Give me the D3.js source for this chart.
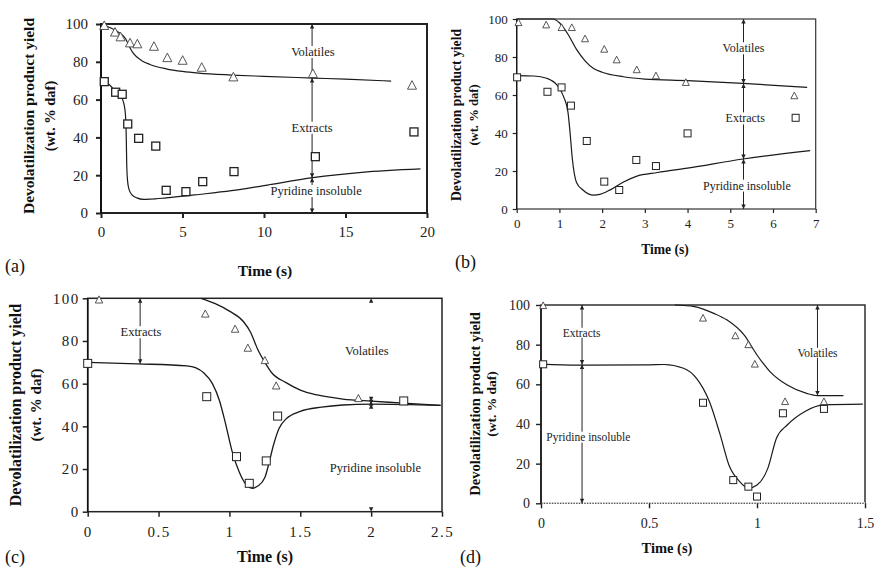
<!DOCTYPE html>
<html>
<head>
<meta charset="utf-8">
<script src="https://cdn.jsdelivr.net/npm/d3@7"></script>
<style>
  html, body { margin: 0; padding: 0; background: #fff; }
  svg, svg text { font-family: "Liberation Serif", serif; }
</style>
</head>
<body>
<svg id="fig" width="875" height="572"></svg>
<script>
// ---- Measured yields (wt.% daf) vs. time (s) ----
// (a)
const aVolatilesPts = [[0.2,99],[0.86,95.5],[1.2,93],[1.78,89.8],[2.23,89.3],[3.25,88],[4.07,82],[5.01,80.6],[6.18,76.9],[8.12,71.8],[13.0,73.6],[19.08,67.4]];
const aInsolublePts = [[0.2,69.5],[0.9,63.9],[1.3,62.8],[1.64,47.1],[2.31,39.5],[3.36,35.4],[4.0,12],[5.21,11.3],[6.24,16.6],[8.16,21.9],[13.15,29.8],[19.2,42.9]];
const aUpperModel = [[0,100],[0.5,98.3],[1.0,96],[1.5,92.3],[1.8,87],[2.0,84.3],[2.5,80.6],[3,78.6],[4,76.3],[5,74.9],[6,74],[8,73],[10,72.3],[13,71.4],[15,70.8],[17.8,69.8]];
const aLowerModel = [[0,70],[0.5,68],[0.9,64.2],[1.2,62],[1.4,58],[1.5,52],[1.55,40],[1.58,25],[1.63,17],[1.72,12.5],[1.9,9.6],[2.2,8],[2.6,7.2],[3,7.3],[4,8],[6,9.8],[8,11.8],[10,14.5],[13,18.7],[16,21.5],[19.6,23.3]];
// (b)
const bVolatilesPts = [[0.04,98],[0.69,96.8],[1.05,95.4],[1.29,95.4],[1.6,89.5],[2.05,84],[2.34,78.4],[2.81,73.2],[3.26,70],[3.96,66.5],[6.5,59.5]];
const bInsolublePts = [[0.01,69.3],[0.72,61.7],[1.05,64],[1.27,54.4],[1.64,35.8],[2.05,14.4],[2.4,10],[2.8,25.8],[3.26,22.6],[4.0,39.8],[6.53,48]];
const bUpperModel = [[0,100],[0.5,100],[0.85,100],[1.0,98],[1.2,92],[1.4,84],[1.6,78],[1.8,74],[2.0,72],[2.5,69.6],[3,68.4],[4,67.6],[5.3,66.1],[6.8,64]];
const bLowerModel = [[0,70.2],[0.4,70],[0.7,68.8],[0.95,65],[1.1,59],[1.2,51],[1.25,40],[1.3,27],[1.4,14],[1.55,10],[1.8,7.3],[1.95,7.7],[2.2,10.2],[2.5,14.2],[2.8,17.2],[3.3,19.2],[4,21.5],[5.3,26.3],[6.87,30.7]];
// (c)
const cVolatilesPts = [[0.08,99.2],[0.83,92.6],[1.04,85.5],[1.13,76.6],[1.25,70.8],[1.33,58.9],[1.91,53]];
const cInsolublePts = [[0.0,69.5],[0.84,53.9],[1.05,25.8],[1.14,13.3],[1.26,23.8],[1.34,44.8],[2.23,51.9]];
const cUpperModel = [[0.8,100],[0.9,97.5],[1.0,94],[1.1,89],[1.15,84],[1.2,76],[1.25,70],[1.3,65],[1.4,60.5],[1.5,57],[1.62,54.7],[1.8,52.8],[2.0,51.8],[2.2,51],[2.49,49.8]];
const cLowerModel = [[0,70],[0.35,69.3],[0.7,68.3],[0.76,67.5],[0.82,65],[0.88,60],[0.93,52],[0.97,42],[1.02,28],[1.07,18.5],[1.12,12.5],[1.16,11],[1.2,12],[1.25,16],[1.28,23],[1.31,31],[1.35,39],[1.4,43.5],[1.5,47],[1.65,49],[1.8,50],[2.0,50.4],[2.49,49.8]];
// (d)
const dVolatilesPts = [[0.01,99.6],[0.75,93.3],[0.9,84.4],[0.96,79.9],[0.99,70.1],[1.13,51.2],[1.31,51.2]];
const dInsolublePts = [[0.01,70.1],[0.75,50.7],[0.89,11.7],[0.96,8.4],[1.0,3.4],[1.12,45.4],[1.31,47.6]];
const dUpperModel = [[0.62,100],[0.71,99.2],[0.8,95.8],[0.86,92.5],[0.94,84.9],[1.0,74.8],[1.06,66.4],[1.14,59.6],[1.23,55.4],[1.28,54.3],[1.4,54.3]];
const dLowerModel = [[0,70.2],[0.17,69.7],[0.49,69.8],[0.57,70],[0.66,68.1],[0.72,63],[0.78,51.2],[0.83,34.4],[0.87,19.3],[0.92,10.9],[0.96,7.6],[1.0,9.2],[1.05,17.6],[1.09,32.8],[1.14,39.5],[1.22,46.2],[1.31,49.6],[1.49,50]];

// ---- Tick values ----
const yTicks = [0,20,40,60,80,100];
const aXTicks = [0,5,10,15,20];
const bXTicks = [0,1,2,3,4,5,6,7];
const cXTicks = [0,0.5,1,1.5,2,2.5];
const dXTicks = [0,0.5,1,1.5];

// ---- Bracket arrows: time, and the yields where the arrowheads sit ----
const aBracket = {t: 12.95, stops: [100, 71.4, 18.7, 0]};
const bBracket = {t: 5.31, stops: [100, 66.1, 26.3, 0]};
const cBracketL = {t: 0.37, stops: [100, 69.3]};
const cBracketR = {t: 2.0, stops: [100, 51.8, 50.4, 0]};
const dBracketL = {t: 0.19, stops: [100, 70, 0]};
const dBracketR = {t: 1.28, stops: [100, 54.3]};

const FONT = '"Liberation Serif", serif';
const svg = d3.select("#fig");

function drawPanel(p) {
  const g = svg.append("g");
  const x = d3.scaleLinear().domain(p.xDomain).range([p.left, p.right]);
  const y = d3.scaleLinear().domain([0, 100]).range([p.bottom, p.top]);

  // frame
  g.append("rect")
    .attr("x", p.left).attr("y", p.top)
    .attr("width", p.right - p.left).attr("height", p.bottom - p.top)
    .attr("fill", "none").attr("stroke", p.frameColor || "#222")
    .attr("stroke-width", p.frameWidth);
  if (p.dottedBase) {
    g.append("line")
      .attr("x1", p.left).attr("x2", p.right).attr("y1", p.bottom).attr("y2", p.bottom)
      .attr("stroke", "#fff").attr("stroke-width", p.frameWidth + 0.5);
    g.append("line")
      .attr("x1", p.left).attr("x2", p.right).attr("y1", p.bottom).attr("y2", p.bottom)
      .attr("stroke", "#555").attr("stroke-width", 1.2).attr("stroke-dasharray", "1.5,1.2");
  }

  // axes
  const xAxis = d3.axisBottom(x).tickValues(p.xTicks).tickSize(p.tickLen)
    .tickPadding(p.xPad).tickFormat(d3.format("~g"));
  const yAxis = d3.axisLeft(y).tickValues(yTicks).tickSize(p.tickLen)
    .tickPadding(p.yPad).tickFormat(d3.format("d"));
  const gx = g.append("g").attr("transform", `translate(0,${p.bottom})`).call(xAxis);
  const gy = g.append("g").attr("transform", `translate(${p.left},0)`).call(yAxis);
  [gx, gy].forEach(a => {
    a.attr("font-family", null);
    a.select(".domain").remove();
    a.selectAll(".tick line").attr("stroke", "#222").attr("stroke-width", p.frameWidth);
    a.selectAll(".tick text").attr("fill", "#222")
      .style("font-family", FONT)
      .style("font-size", p.tickFont + "px")
      .style("letter-spacing", (p.tickSpacing || 0) + "px");
  });
  gy.append("line").attr("x1", 0).attr("x2", 0).attr("y1", p.top).attr("y2", p.bottom)
    .attr("stroke", "#111").attr("stroke-width", p.frameWidth);

  // model curves
  const line = d3.line().x(d => x(d[0])).y(d => y(d[1])).curve(d3.curveMonotoneX);
  [p.upper, p.lower].forEach(c => {
    g.append("path").datum(c).attr("d", line)
      .attr("fill", "none").attr("stroke", "#1a1a1a").attr("stroke-width", p.curveWidth);
  });

  // bracket arrows
  const head = (px, py, dir, color) => {
    const w = 2.2, h = 4.5;
    g.append("path")
      .attr("d", `M${px},${py} L${px - w},${py - dir * h} L${px + w},${py - dir * h} Z`)
      .attr("fill", color);
  };
  p.brackets.forEach(b => {
    const bx = x(b.t);
    const col = b.color || "#222";
    if (!b.hideLine) {
      g.append("line").attr("x1", bx).attr("x2", bx)
        .attr("y1", y(b.stops[0])).attr("y2", y(b.stops[b.stops.length - 1]))
        .attr("stroke", col).attr("stroke-width", 1);
    }
    for (let i = 0; i < b.stops.length - 1; i++) {
      head(bx, y(b.stops[i]), -1, col);       // points up to upper stop
      head(bx, y(b.stops[i + 1]), 1, col);   // points down to lower stop
    }
  });

  // region labels (white backing so they sit over the bracket line)
  p.labels.forEach(l => {
    const t = g.append("text")
      .attr("x", x(l.t)).attr("y", y(l.v))
      .attr("text-anchor", "middle").attr("dominant-baseline", "central")
      .style("font-family", FONT)
      .style("font-size", p.labelFont + "px").attr("fill", "#222")
      .text(l.text);
    const bb = t.node().getBBox();
    g.insert("rect", () => t.node())
      .attr("x", bb.x - 1).attr("y", bb.y + 1)
      .attr("width", bb.width + 2).attr("height", bb.height - 2)
      .attr("fill", "#fff");
  });

  // measured points
  const tri = (cx, cy, s) => `M${cx},${cy - s * 0.55} L${cx + s / 2},${cy + s * 0.4} L${cx - s / 2},${cy + s * 0.4} Z`;
  p.volatiles.forEach(d => {
    g.append("path").attr("d", tri(x(d[0]), y(d[1]), p.triSize))
      .attr("fill", "#fff").attr("stroke", "#444").attr("stroke-width", 0.9);
  });
  p.insoluble.forEach(d => {
    const s = p.sqSize;
    g.append("rect").attr("x", x(d[0]) - s / 2).attr("y", y(d[1]) - s / 2)
      .attr("width", s).attr("height", s)
      .attr("fill", "#fff").attr("stroke", "#222").attr("stroke-width", p.sqStroke);
  });

  // axis titles
  const title = (txt, size) => g.append("text").attr("text-anchor", "middle")
    .style("font-weight", "bold").style("font-family", FONT)
    .style("font-size", size + "px").attr("fill", "#111")
    .attr("dominant-baseline", "central").text(txt);
  title("Time (s)", p.titleFont).attr("x", p.timeX).attr("y", p.timeY);
  title("Devolatilization product yield", p.titleFont)
    .attr("transform", `translate(${p.ylab1X},${p.ylabY}) rotate(-90)`);
  title("(wt. % daf)", p.titleFont - 1)
    .attr("transform", `translate(${p.ylab2X},${p.ylabY}) rotate(-90)`);

  g.append("text").attr("x", p.tagX).attr("y", p.tagY).attr("dominant-baseline", "central")
    .style("font-family", FONT).style("font-size", "18px").attr("fill", "#111").text(p.tag);
}

drawPanel({
  tag: "(a)", tagX: 5, tagY: 266,
  xDomain: [0, 20], left: 101, right: 427, top: 24, bottom: 213,
  xTicks: aXTicks, tickLen: 5, xPad: 8, yPad: 8, tickFont: 15,
  frameWidth: 2, curveWidth: 1.2,
  upper: aUpperModel, lower: aLowerModel,
  volatiles: aVolatilesPts, insoluble: aInsolublePts,
  triSize: 9, sqSize: 8, sqStroke: 1.3,
  brackets: [aBracket],
  labelFont: 12.5,
  labels: [{t: 13.0, v: 85.2, text: "Volatiles"}, {t: 12.95, v: 45.1, text: "Extracts"}, {t: 13.2, v: 11.6, text: "Pyridine insoluble"}],
  titleFont: 15.5, timeX: 265, timeY: 270, ylab1X: 28, ylab2X: 50, ylabY: 116
});

drawPanel({
  tag: "(b)", tagX: 455, tagY: 262,
  xDomain: [0, 7], left: 516.7, right: 815.7, top: 19, bottom: 209,
  xTicks: bXTicks, tickLen: 4, xPad: 6, yPad: 5, tickFont: 13,
  frameWidth: 1.2, frameColor: "#333", curveWidth: 1.2,
  upper: bUpperModel, lower: bLowerModel,
  volatiles: bVolatilesPts, insoluble: bInsolublePts,
  triSize: 7, sqSize: 7, sqStroke: 1,
  brackets: [bBracket],
  labelFont: 12,
  labels: [{t: 5.31, v: 84.6, text: "Volatiles"}, {t: 5.35, v: 47.7, text: "Extracts"}, {t: 5.39, v: 12.3, text: "Pyridine insoluble"}],
  titleFont: 13.6, timeX: 665, timeY: 249, ylab1X: 456.5, ylab2X: 474, ylabY: 115
});

drawPanel({
  tag: "(c)", tagX: 5, tagY: 557,
  xDomain: [0, 2.5], left: 87.7, right: 442, top: 298.3, bottom: 511.7,
  xTicks: cXTicks, tickLen: 5, xPad: 10, yPad: 3, tickFont: 15, tickSpacing: 1.5,
  frameWidth: 1.5, curveWidth: 1.3,
  upper: cUpperModel, lower: cLowerModel,
  volatiles: cVolatilesPts, insoluble: cInsolublePts,
  triSize: 7.5, sqSize: 8, sqStroke: 1,
  brackets: [cBracketL, Object.assign({hideLine: true}, cBracketR)],
  labelFont: 12.5,
  labels: [{t: 0.376, v: 84.1, text: "Extracts"}, {t: 1.97, v: 75.3, text: "Volatiles"}, {t: 2.03, v: 20.3, text: "Pyridine insoluble"}],
  titleFont: 16, timeX: 265, timeY: 556, ylab1X: 15, ylab2X: 36, ylabY: 405
});

drawPanel({
  tag: "(d)", tagX: 460, tagY: 557,
  xDomain: [0, 1.5], left: 541, right: 865, top: 305, bottom: 503.3,
  xTicks: dXTicks, tickLen: 5, xPad: 10, yPad: 6, tickFont: 14,
  frameWidth: 1.4, curveWidth: 1.2, dottedBase: true,
  upper: dUpperModel, lower: dLowerModel,
  volatiles: dVolatilesPts, insoluble: dInsolublePts,
  triSize: 7, sqSize: 7, sqStroke: 1,
  brackets: [dBracketL, dBracketR],
  labelFont: 11.5,
  labels: [{t: 0.188, v: 86, text: "Extracts"}, {t: 0.219, v: 33.6, text: "Pyridine insoluble"}, {t: 1.28, v: 75.9, text: "Volatiles"}],
  titleFont: 14.5, timeX: 667, timeY: 548, ylab1X: 475, ylab2X: 491, ylabY: 404
});
</script>
</body>
</html>
